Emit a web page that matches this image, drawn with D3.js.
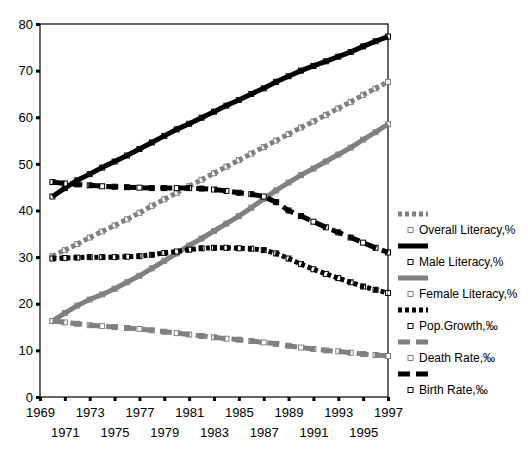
<!DOCTYPE html>
<html><head><meta charset="utf-8">
<script src="https://cdn.jsdelivr.net/npm/d3@7"></script>
<style>body{margin:0;background:#fff}svg text{font-family:"Liberation Sans",Arial,sans-serif}</style>
</head><body><svg id="c" width="528" height="452"></svg>
<script>
const years = d3.range(1970, 1998);
const overallLiteracy = [30.2,31.5,32.8,34.2,35.5,36.8,38.1,39.5,41.0,42.4,43.8,45.2,46.6,48.0,49.4,50.8,52.2,53.6,55.0,56.4,57.8,59.1,60.5,61.9,63.3,64.8,66.2,67.6];
const maleLiteracy = [43.0,44.8,46.5,47.8,49.2,50.5,51.8,53.2,54.6,56.0,57.4,58.6,59.9,61.2,62.5,63.7,65.0,66.2,67.6,68.8,70.0,71.0,72.0,73.0,74.0,75.2,76.3,77.3];
const femaleLiteracy = [16.3,18.0,19.6,20.9,22.0,23.2,24.6,26.0,27.6,29.2,30.8,32.5,34.0,35.6,37.2,38.8,40.6,42.5,44.3,46.0,47.6,49.0,50.5,52.0,53.5,55.2,56.8,58.5];
const popGrowth = [29.7,29.8,29.9,30.0,30.0,30.0,30.1,30.2,30.5,30.9,31.2,31.6,31.9,32.0,32.0,31.9,31.8,31.5,30.8,29.7,28.5,27.4,26.4,25.5,24.6,23.7,23.0,22.3];
const deathRate = [16.3,16.0,15.7,15.4,15.2,15.0,14.8,14.6,14.3,14.0,13.7,13.4,13.1,12.8,12.5,12.3,12.0,11.7,11.4,11.0,10.6,10.3,10.0,9.8,9.5,9.2,9.0,8.8];
const birthRate = [46.1,45.8,45.6,45.4,45.2,45.1,45.0,44.9,44.8,44.8,44.8,44.8,44.7,44.5,44.2,43.8,43.5,43.0,41.8,40.0,38.8,37.6,36.4,35.3,34.2,33.1,32.0,31.0];
const seriesNames = ["Overall Literacy,%","Male Literacy,%","Female Literacy,%","Pop.Growth,\u2030","Death Rate,\u2030","Birth Rate,\u2030"];
const yTicks = [0,10,20,30,40,50,60,70,80];
const xTicks = d3.range(1969, 1998, 2);

const GRAY = "#808080", BLACK = "#000";
const styles = [
  {color: GRAY, dash: "4,3"},
  {color: BLACK, dash: null},
  {color: GRAY, dash: null},
  {color: BLACK, dash: "4,3"},
  {color: GRAY, dash: "12,6"},
  {color: BLACK, dash: "12,6"}
];
const allSeries = [overallLiteracy, maleLiteracy, femaleLiteracy, popGrowth, deathRate, birthRate];

const svg = d3.select("#c");
const L = 40, R = 388, T = 24, B = 397;
const x = d3.scaleLinear().domain([1969, 1997]).range([L, R]);
const y = d3.scaleLinear().domain([0, 80]).range([B, T]);

// frame
svg.append("rect").attr("x", L).attr("y", T).attr("width", R - L).attr("height", B - T)
  .attr("fill", "none").attr("stroke", "#000").attr("stroke-width", 1.2);

// y axis
const ya = svg.append("g").attr("transform", `translate(${L},0)`)
  .call(d3.axisLeft(y).tickValues(yTicks).tickSize(4).tickPadding(3));
ya.select(".domain").remove();
ya.selectAll("line").attr("stroke-width", 3);
ya.selectAll("text").attr("font-size", 13).attr("fill", "#000");

// x axis
const xa = svg.append("g").attr("transform", `translate(0,${B})`)
  .call(d3.axisBottom(x).tickValues(xTicks).tickSize(4).tickFormat(d3.format("d")));
xa.select(".domain").remove();
xa.selectAll("line").attr("stroke-width", 3);
xa.selectAll("text").attr("font-size", 13).attr("fill", "#000")
  .attr("y", (d, i) => i % 2 === 0 ? 11 : 31).attr("dy", "0.71em");

const line = d3.line().x((d, i) => x(years[i])).y(d => y(d));

allSeries.forEach((s, k) => {
  const g = svg.append("g");
  g.selectAll("rect").data(s).join("rect")
    .attr("x", (d, i) => x(years[i]) - 2.5).attr("y", d => y(d) - 2.5)
    .attr("width", 5).attr("height", 5)
    .attr("fill", "#fff").attr("stroke", styles[k].color).attr("stroke-width", 1);
  g.append("path").datum(s).attr("d", line)
    .attr("fill", "none").attr("stroke", styles[k].color).attr("stroke-width", 5)
    .attr("stroke-dasharray", styles[k].dash);
});

// legend
const lg = svg.append("g");
seriesNames.forEach((name, k) => {
  const sy = 214 + k * 32;
  lg.append("line").attr("x1", 398).attr("x2", 428).attr("y1", sy).attr("y2", sy)
    .attr("stroke", styles[k].color).attr("stroke-width", 5)
    .attr("stroke-dasharray", styles[k].dash);
  lg.append("rect").attr("x", 408).attr("y", sy + 13.5).attr("width", 5).attr("height", 5)
    .attr("fill", "#fff").attr("stroke", styles[k].color).attr("stroke-width", 1);
  lg.append("text").attr("x", 419).attr("y", sy + 16).attr("dy", "0.36em")
    .attr("font-size", 12).attr("fill", "#000").text(name);
});
</script></body></html>
